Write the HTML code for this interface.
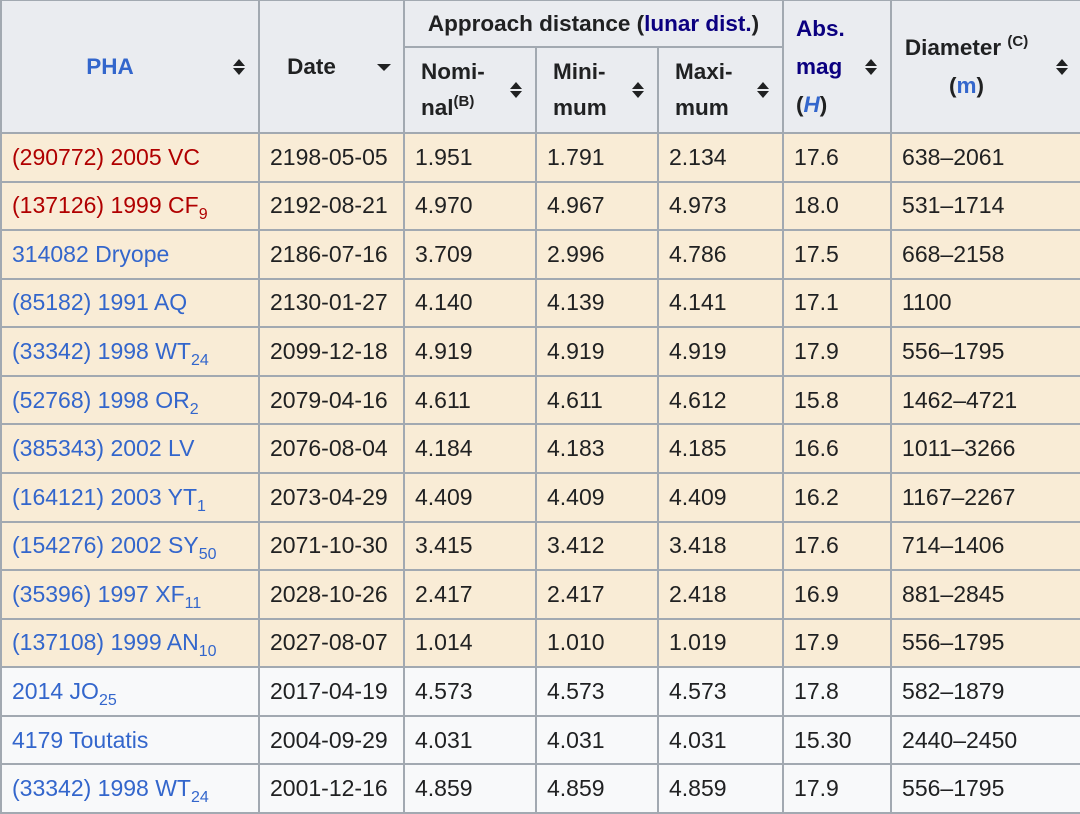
<!DOCTYPE html>
<html><head><meta charset="utf-8"><style>
body{margin:0;background:#fff;width:1080px;height:813px;overflow:hidden;font-family:"Liberation Sans",Arial,sans-serif;}
table{border-collapse:collapse;table-layout:fixed;width:1081px;position:absolute;left:0;top:-1px;font-size:23px;color:#202122;}
td,th{border:2px solid #a2a9b1;padding:0 0 0 10px;text-align:left;white-space:nowrap;overflow:hidden;}
th{background:#eaecf0;font-weight:bold;position:relative;text-align:center;padding:0;font-size:22.5px}
tr.b td{height:46.57px;background:#f9ecd6;}
tr.w td{height:46.57px;background:#f8f9fa;}
.r{color:#b00000}.l{color:#3366cc}.d{color:#0b0080}
sub{font-size:16px;vertical-align:-6px;line-height:0}
sup{font-size:15px;line-height:0;vertical-align:9px;font-weight:bold}
.s{position:absolute;right:12px;top:50%;margin-top:-9px;width:14px;height:18px}
.h{line-height:36px}
</style></head><body>
<table>
<colgroup><col style="width:258px"><col style="width:145px"><col style="width:132px"><col style="width:122px"><col style="width:125px"><col style="width:108px"><col style="width:191px"></colgroup>
<tr style="height:47px">
<th rowspan="2" class="l" style="padding-right:40px">PHA<svg class="s" viewBox="0 0 14 18"><path d="M1 8L7 1L13 8Z M1 10L7 17L13 10Z" fill="#202122"/></svg></th>
<th rowspan="2" style="padding-right:40px">Date<svg class="s" viewBox="0 0 14 18"><path d="M0 6L14 6L7 13Z" fill="#202122"/></svg></th>
<th colspan="3" style="padding-top:0">Approach distance (<span class="d">lunar dist.</span>)</th>
<th rowspan="2" class="d" style="text-align:left;padding-left:12px;line-height:38px">Abs.<br>mag<br><span style="color:#202122">(<i class="l">H</i>)</span><svg class="s" style="right:12px" viewBox="0 0 14 18"><path d="M1 8L7 1L13 8Z M1 10L7 17L13 10Z" fill="#202122"/></svg></th>
<th rowspan="2" style="padding-right:40px;line-height:38px">Diameter <sup>(C)</sup><br>(<span class="l">m</span>)<svg class="s" viewBox="0 0 14 18"><path d="M1 8L7 1L13 8Z M1 10L7 17L13 10Z" fill="#202122"/></svg></th>
</tr>
<tr style="height:86px">
<th class="h" style="text-align:left;padding-left:16px">Nomi-<br>nal<sup>(B)</sup><svg class="s" viewBox="0 0 14 18"><path d="M1 8L7 1L13 8Z M1 10L7 17L13 10Z" fill="#202122"/></svg></th>
<th class="h" style="text-align:left;padding-left:16px">Mini-<br>mum<svg class="s" viewBox="0 0 14 18"><path d="M1 8L7 1L13 8Z M1 10L7 17L13 10Z" fill="#202122"/></svg></th>
<th class="h" style="text-align:left;padding-left:16px">Maxi-<br>mum<svg class="s" viewBox="0 0 14 18"><path d="M1 8L7 1L13 8Z M1 10L7 17L13 10Z" fill="#202122"/></svg></th>
</tr>
<tr class="b"><td class="r">(290772) 2005 VC</td><td>2198-05-05</td><td>1.951</td><td>1.791</td><td>2.134</td><td>17.6</td><td>638–2061</td></tr>
<tr class="b"><td class="r">(137126) 1999 CF<sub>9</sub></td><td>2192-08-21</td><td>4.970</td><td>4.967</td><td>4.973</td><td>18.0</td><td>531–1714</td></tr>
<tr class="b"><td class="l">314082 Dryope</td><td>2186-07-16</td><td>3.709</td><td>2.996</td><td>4.786</td><td>17.5</td><td>668–2158</td></tr>
<tr class="b"><td class="l">(85182) 1991 AQ</td><td>2130-01-27</td><td>4.140</td><td>4.139</td><td>4.141</td><td>17.1</td><td>1100</td></tr>
<tr class="b"><td class="l">(33342) 1998 WT<sub>24</sub></td><td>2099-12-18</td><td>4.919</td><td>4.919</td><td>4.919</td><td>17.9</td><td>556–1795</td></tr>
<tr class="b"><td class="l">(52768) 1998 OR<sub>2</sub></td><td>2079-04-16</td><td>4.611</td><td>4.611</td><td>4.612</td><td>15.8</td><td>1462–4721</td></tr>
<tr class="b"><td class="l">(385343) 2002 LV</td><td>2076-08-04</td><td>4.184</td><td>4.183</td><td>4.185</td><td>16.6</td><td>1011–3266</td></tr>
<tr class="b"><td class="l">(164121) 2003 YT<sub>1</sub></td><td>2073-04-29</td><td>4.409</td><td>4.409</td><td>4.409</td><td>16.2</td><td>1167–2267</td></tr>
<tr class="b"><td class="l">(154276) 2002 SY<sub>50</sub></td><td>2071-10-30</td><td>3.415</td><td>3.412</td><td>3.418</td><td>17.6</td><td>714–1406</td></tr>
<tr class="b"><td class="l">(35396) 1997 XF<sub>11</sub></td><td>2028-10-26</td><td>2.417</td><td>2.417</td><td>2.418</td><td>16.9</td><td>881–2845</td></tr>
<tr class="b"><td class="l">(137108) 1999 AN<sub>10</sub></td><td>2027-08-07</td><td>1.014</td><td>1.010</td><td>1.019</td><td>17.9</td><td>556–1795</td></tr>
<tr class="w"><td class="l">2014 JO<sub>25</sub></td><td>2017-04-19</td><td>4.573</td><td>4.573</td><td>4.573</td><td>17.8</td><td>582–1879</td></tr>
<tr class="w"><td class="l">4179 Toutatis</td><td>2004-09-29</td><td>4.031</td><td>4.031</td><td>4.031</td><td>15.30</td><td>2440–2450</td></tr>
<tr class="w"><td class="l">(33342) 1998 WT<sub>24</sub></td><td>2001-12-16</td><td>4.859</td><td>4.859</td><td>4.859</td><td>17.9</td><td>556–1795</td></tr>
</table>
</body></html>
